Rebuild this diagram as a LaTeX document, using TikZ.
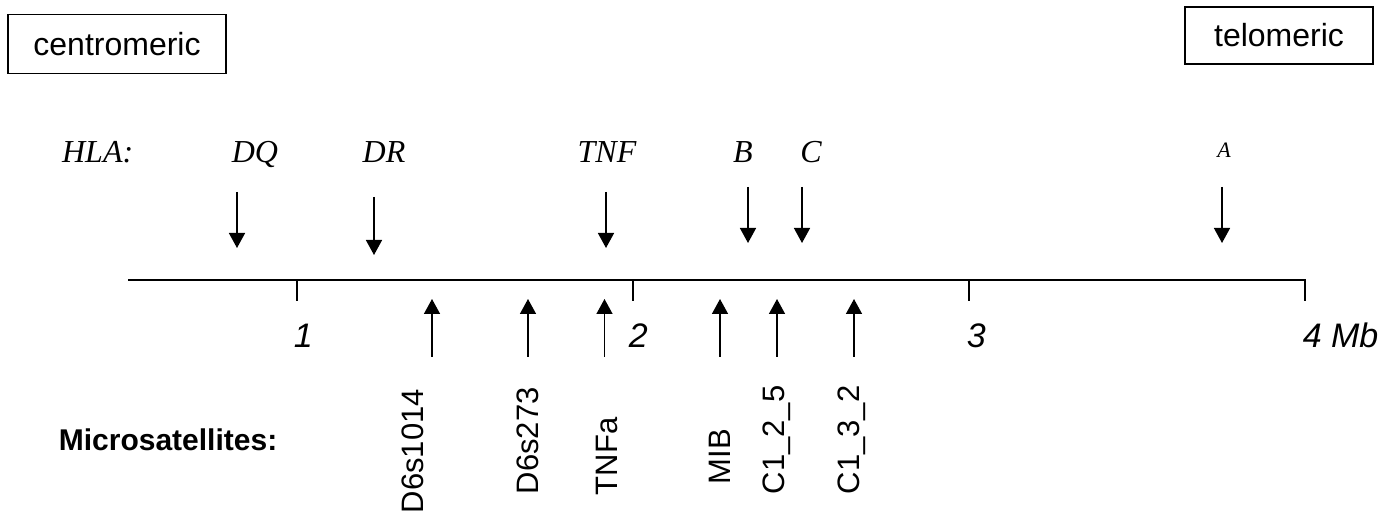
\documentclass[tikz,border=0pt]{standalone}
\usepackage{fontspec}
\setmainfont{Liberation Sans}
\newfontfamily\timesf{Liberation Serif}
\usetikzlibrary{arrows.meta}
\begin{document}
\begin{tikzpicture}[x=1pt,y=-1pt,line width=1.5pt,
  boxlbl/.style={draw,line width=1.5pt,inner sep=0,font=\fontsize{32}{36}\selectfont},
  hla/.style={font=\timesf\itshape\fontsize{32}{36}\selectfont,inner sep=0,anchor=base},
  ticklbl/.style={font=\itshape\fontsize{34}{38}\selectfont,inner sep=0,anchor=base west},
  micro/.style={font=\fontsize{31}{34}\selectfont,inner sep=0,rotate=90,anchor=base west},
  marker/.style={-{Triangle[width=16pt,length=15pt]}}]
\useasboundingbox (0,0) rectangle (1390,518);
% boxes
\node[boxlbl,minimum width=218pt,minimum height=59pt] (cen) at (117,44) {centromeric};
\node[boxlbl,minimum width=188pt,minimum height=57pt] (tel) at (1279,35.5) {telomeric};
% HLA labels
\node[hla,anchor=base east] (hlalbl) at (134,163) {HLA:};
\node[hla] (dq) at (255,163) {DQ};
\node[hla] (dr) at (384,163) {DR};
\node[hla] (tnf) at (607,163) {TNF};
\node[hla] (hb) at (743,163) {B};
\node[hla] (hc) at (811,163) {C};
\node[hla,font=\timesf\itshape\fontsize{22}{26}\selectfont] (ha) at (1224,158) {A};
% down arrows
\coordinate (dqs) at (237,192); \coordinate (dqe) at (237,248);
\coordinate (drs) at (374,197); \coordinate (dre) at (374,255);
\coordinate (tns) at (606,192); \coordinate (tne) at (606,248);
\coordinate (bs) at (748,187); \coordinate (be) at (748,243);
\coordinate (cs) at (802,187); \coordinate (ce) at (802,243);
\coordinate (as) at (1222,187); \coordinate (ae) at (1222,243);
\draw[marker] (dqs) -- (dqe);
\draw[marker] (drs) -- (dre);
\draw[marker] (tns) -- (tne);
\draw[marker] (bs) -- (be);
\draw[marker] (cs) -- (ce);
\draw[marker] (as) -- (ae);
% axis
\coordinate (ax0) at (128,280);
\coordinate (t1) at (297,280); \coordinate (t1b) at (297,301);
\coordinate (t2) at (633,280); \coordinate (t2b) at (633,301);
\coordinate (t3) at (969,280); \coordinate (t3b) at (969,301);
\coordinate (t4) at (1305,280); \coordinate (t4b) at (1305,301);
\draw[line join=miter] (ax0) -- (t4) -- (t4b);
\draw (t1) -- (t1b);
\draw (t2) -- (t2b);
\draw (t3) -- (t3b);
\node[ticklbl] (l1) at (293,348) {1};
\node[ticklbl] (l2) at (628,348) {2};
\node[ticklbl] (l3) at (966,348) {3};
\node[ticklbl] (l4) at (1302,348) {4 Mb};
% up arrows
\coordinate (u1s) at (432,357); \coordinate (u1e) at (432,299);
\coordinate (u2s) at (528,357); \coordinate (u2e) at (528,299);
\coordinate (u3s) at (604.5,357); \coordinate (u3e) at (604.5,299);
\coordinate (u4s) at (720,357); \coordinate (u4e) at (720,299);
\coordinate (u5s) at (777,357); \coordinate (u5e) at (777,299);
\coordinate (u6s) at (854,357); \coordinate (u6e) at (854,299);
\draw[marker] (u1s) -- (u1e);
\draw[marker] (u2s) -- (u2e);
\draw[marker] (u3s) -- (u3e);
\draw[marker] (u4s) -- (u4e);
\draw[marker] (u5s) -- (u5e);
\draw[marker] (u6s) -- (u6e);
% microsatellites
\node[font=\bfseries\fontsize{30}{34}\selectfont,inner sep=0,anchor=base east] (ms) at (278,450) {Microsatellites:};
\node[micro] (m1) at (423,514) {D6s1014};
\node[micro] (m2) at (538,495) {D6s273};
\node[micro] (m3) at (617,496) {TNFa};
\node[micro] (m4) at (730,485) {MIB};
\node[micro] (m5) at (784,495) {C1\_2\_5};
\node[micro] (m6) at (859,495) {C1\_3\_2};
\end{tikzpicture}
\end{document}
